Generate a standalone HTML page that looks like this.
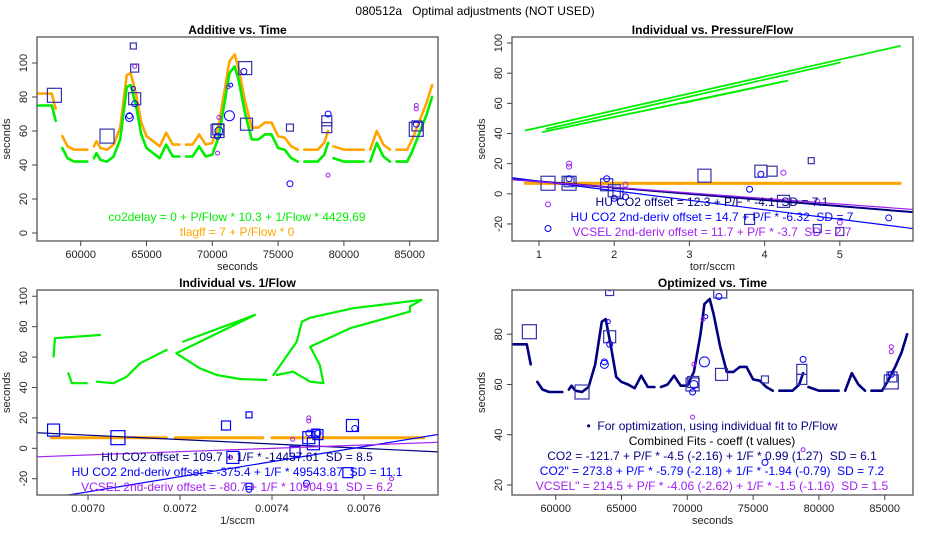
<!DOCTYPE html>
<html><head><meta charset="utf-8">
<style>
html,body{margin:0;padding:0;background:#fff;}
svg{display:block;font-family:"Liberation Sans",sans-serif;}
text{white-space:pre;}
</style></head>
<body>
<svg id="chart" width="950" height="550" viewBox="0 0 950 550" xmlns="http://www.w3.org/2000/svg" xml:space="preserve"></svg>
<script>
// ---------- DATA ----------
const timeSegs = [
 [56500,57800,58100],
 [58600,59000,59500,60500],
 [61000,61200,61500,62000,62500,63000,63500,63800,64200,64600,65000,65500,66000,66500,67000,67500],
 [68000,68500,69000,69500,70000,70500,71000,71300,71700,72000,72500,73000,73500,74000,74500,75000,75500,76000,76500],
 [77000,78000,78500,78800],
 [79200,80000,81500],
 [82000,82500,83000,83500],
 [84000,84800,85200,85800,86300,86700]
];
const co2delayVals = [
 [75,75,66],
 [50,44,42,42],
 [44,47,43,42,45,55,86,87,75,58,50,47,44,52,45,45],
 [45,45,51,45,46,57,80,94,98,90,70,55,55,58,58,50,49,44,42],
 [42,42,46,53],
 [44,42,42],
 [42,53,45,42],
 [42,42,48,60,70,80]
];
const tlagffVals = [
 [82,82,73],
 [57,51,49,49],
 [51,54,50,49,52,62,93,94,82,65,57,54,51,59,52,52],
 [52,52,58,52,53,64,87,101,105,97,77,62,62,65,65,57,56,51,49],
 [49,49,53,60],
 [51,49,49],
 [49,60,52,49],
 [49,49,55,67,77,87]
];
const optimizedVals = [
 [76,76,68],
 [61,58,57,57],
 [58,59.5,57.5,57,59,68,85,86,75,63,61,60,58.5,63.5,59,59],
 [59,60,63.5,59.5,59.5,65,80,92,94,88,75,65,65,67,67,62,61.5,59,57.5],
 [57.5,57.5,60,64.5],
 [59,57.5,57.5],
 [57.5,64.5,60,57.5],
 [57.5,57.5,61,67,73,80]
];
const tSqT = [58000,62000,64100,64100,64000,70400,70450,72500,72600,75900,78700,78700,85500,85550];
const tSqV = [81,57,79,97,110,60,61,97,64,62,66,62,61,63];
const tSqS = [14,14,12,8,6,13,11,13,12,7,10,10,14,10];
const tCiT = [63700,63700,64100,71300,72400,75900,78800,85500,70400,70500,64000,71400];
const tCiV = [68,69,76,69,95,29,70,64,57,60,85,87];
const tCiR = [4,3,3,5,3,3,3,3,3,4,2,2];
const tPuT = [70400,71200,78800,85500,85500,64100,70500];
const tPuV = [47,86,34,75,73,98,68];
const pfGreenX0 = [0.82,1.05,1.1,2.9];
const pfGreenY0 = [42,41,43,60];
const pfGreenX1 = [5.8,4.25,5.0,4.3];
const pfGreenY1 = [98,74.5,87,75];
const pfOrangeRange = [0.82,5.8];
const tlagffLevel = 7;
const pfFitIntercept = [12.3,14.7,11.7];
const pfFitSlope = [-4.1,-6.32,-3.7];
const pfSqX = [1.12,1.4,1.9,2.0,3.2,3.95,4.1,4.25,3.8,4.62,5.0,4.7,1.4,2.05];
const pfSqY = [7,7,6,2,12,15,15,-5,-17,22,-25,-23,8,0];
const pfSqS = [14,14,12,12,13,12,10,12,10,6,8,8,10,10];
const pfCiX = [1.4,1.9,2.15,1.12,3.95,3.8,5.65,2.0];
const pfCiY = [10,10,-2,-23,13,3,-16,-3];
const pfPuX = [1.4,1.4,4.7,4.25,1.12,2.15,5.0];
const pfPuY = [20,18,-5,14,-7,6,-19];
const invGreenX = [
 [0.007026,0.006928,0.006925],
 [0.006957,0.006965,0.006997],
 [0.007019,0.007055,0.007084,0.007113,0.007171],
 [0.007207,0.007363,0.007192,0.007243,0.007280,0.007330,0.007388],
 [0.007403,0.007454,0.007465,0.007483,0.007577,0.007725,0.007700,0.007700,0.007570,0.007483,0.007504,0.007512,0.007483,0.007446,0.007410]
];
const invGreenY = [
 [74.5,72.4,60.3],
 [49.3,42.8,42.8],
 [43.8,42.8,47.1,55.9,64.7],
 [70.2,87.7,62.5,52.6,48.2,45.6,44.9],
 [48.2,70.2,83.3,85.9,92.1,97.6,93.2,89.9,79,66.8,54.8,42.8,43.8,50.4,48.2]
];
const invOrangeStart = [0.00692,0.00719,0.00740];
const invOrangeEnd = [0.00717,0.00738,0.00773];
const invFitIntercept = [109.7,-375.4,-80.7];
const invFitSlope = [-14437.61,49543.87,10904.91];
const invSqX = [0.006925,0.007065,0.007300,0.007350,0.007450,0.007480,0.007490,0.007500,0.007575,0.007565,0.007315,0.007350,0.007495];
const invSqY = [12,7,15,22,-2,7,3,9,15,-16,-6,-25,10];
const invSqS = [12,14,9,6,10,12,12,10,12,10,12,6,8];
const invCiX = [0.007480,0.007580,0.007475,0.007500,0.007350];
const invCiY = [10,13,-23,10,-27];
const invPuX = [0.007480,0.007480,0.007310,0.007660,0.007445];
const invPuY = [20,18,-6,-20,6];

// ---------- DRAW ----------
const NS="http://www.w3.org/2000/svg";
const svg=document.getElementById('chart');
const C={green:'#00ee00',orange:'#ffa500',navy:'#000080',blue:'#0000ff',purple:'#a020f0',sq:'#3333aa'};
function mk(tag,attrs,parent){const e=document.createElementNS(NS,tag);for(const k in attrs)e.setAttribute(k,attrs[k]);(parent||svg).appendChild(e);return e;}
function txt(x,y,s,opts,parent){const t=mk('text',Object.assign({x:x,y:y,'font-size':12,'text-anchor':'middle',fill:'#000'},opts||{}),parent);t.textContent=s;return t;}

function panel(id,px0,px1,py0,py1,xmin,xmax,ymin,ymax){
 const p={px0,px1,py0,py1,xmin,xmax,ymin,ymax};
 p.sx=v=>px0+(v-xmin)/(xmax-xmin)*(px1-px0);
 p.sy=v=>py1-(v-ymin)/(ymax-ymin)*(py1-py0);
 const cp=mk('clipPath',{id:'clip'+id});
 mk('rect',{x:px0,y:py0,width:px1-px0,height:py1-py0},cp);
 p.g=mk('g',{'clip-path':'url(#clip'+id+')'});
 
 
 return p;
}
function frame(p,name,title,xticks,xlabels,yticks,ylabels,xtitle){
 const b=mk('rect',{x:p.px0,y:p.py0,width:p.px1-p.px0,height:p.py1-p.py0,fill:'none',stroke:'#555','stroke-width':1.3});
 
 
 const t=txt((p.px0+p.px1)/2,p.py0-3,title,{'font-weight':'bold','font-size':12});
 
 
 const xa=mk('g',{});
 
 
 xticks.forEach((v,i)=>{const x=p.sx(v);mk('line',{x1:x,x2:x,y1:p.py1,y2:p.py1+5,stroke:'#444'},xa);txt(x,p.py1+17,xlabels[i],{'font-size':11,fill:'#222'},xa);});
 const ya=mk('g',{});
 
 
 yticks.forEach((v,i)=>{const y=p.sy(v);mk('line',{x1:p.px0-5,x2:p.px0,y1:y,y2:y,stroke:'#444'},ya);txt(p.px0-10,y,ylabels[i],{'font-size':11,fill:'#222',transform:'rotate(-90 '+(p.px0-10)+' '+y+')'},ya);});
 const xt=txt((p.px0+p.px1)/2,p.py1+29,xtitle,{'font-size':11,fill:'#222'});
 
 
 const yx=p.px0-27,yy=(p.py0+p.py1)/2;
 const yt=txt(yx,yy,'seconds',{'font-size':11,fill:'#222',transform:'rotate(-90 '+yx+' '+yy+')'});
 
 
}
function poly(p,xs,ys,color,w,name){
 const pts=xs.map((x,i)=>p.sx(x).toFixed(1)+','+p.sy(ys[i]).toFixed(1)).join(' ');
 const e=mk('polyline',{points:pts,fill:'none',stroke:color,'stroke-width':w,'stroke-linejoin':'round','stroke-linecap':'round'},p.g);
 
 
 return e;
}
function squares(p,xs,ys,ss,color,name){
 xs.forEach((x,i)=>{const s=ss[i];const e=mk('rect',{x:p.sx(x)-s/2,y:p.sy(ys[i])-s/2,width:s,height:s,fill:'none',stroke:color,'stroke-width':1.2},p.g);
 
 });
}
function circles(p,xs,ys,rs,color,name){
 xs.forEach((x,i)=>{const r=rs?rs[i]:2;const e=mk('circle',{cx:p.sx(x),cy:p.sy(ys[i]),r:r,fill:'none',stroke:color,'stroke-width':1},p.g);
 
 });
}
function fitLine(p,a,b,color,w,name){
 const e=mk('line',{x1:p.sx(p.xmin),y1:p.sy(a+b*p.xmin),x2:p.sx(p.xmax),y2:p.sy(a+b*p.xmax),stroke:color,'stroke-width':w},p.g);
 
 
}

const mt=txt(475,15,'080512a   Optimal adjustments (NOT USED)',{'font-size':12});



const timeTicks=[60000,65000,70000,75000,80000,85000];
const timeLabels=['60000','65000','70000','75000','80000','85000'];

// Panel 1
const p1=panel('1',37,438,37,241,56679,87150,-4.7,115.3);
timeSegs.forEach((ts,i)=>poly(p1,ts,tlagffVals[i],C.orange,2.6,'tlagff-line'));
timeSegs.forEach((ts,i)=>poly(p1,ts,co2delayVals[i],C.green,2.6,'co2delay-line'));
squares(p1,tSqT,tSqV,tSqS,C.sq,'co2-offset-square');
circles(p1,tCiT,tCiV,tCiR,C.blue,'co2-deriv-circle');
circles(p1,tPuT,tPuV,null,C.purple,'vcsel-point');
frame(p1,'additive-panel','Additive vs. Time',timeTicks,timeLabels,[0,20,40,60,80,100],['0','20','40','60','80','100'],'seconds');
let t;
t=txt(237,221,'co2delay = 0 + P/Flow * 10.3 + 1/Flow * 4429.69',{fill:C.green});


t=txt(237,236,'tlagff = 7 + P/Flow * 0',{fill:C.orange});



// Panel 2
const p2=panel('2',512,913,37,241,0.641,5.973,-31.3,104);
pfGreenX0.forEach((x,i)=>poly(p2,[x,pfGreenX1[i]],[pfGreenY0[i],pfGreenY1[i]],C.green,1.8,'co2delay-vs-pf'));
poly(p2,pfOrangeRange,[tlagffLevel,tlagffLevel],C.orange,3.2,'tlagff-vs-pf');
squares(p2,pfSqX,pfSqY,pfSqS,C.sq,'co2-offset-square');
circles(p2,pfCiX,pfCiY,pfCiX.map(()=>3),C.blue,'co2-deriv-circle');
circles(p2,pfPuX,pfPuY,pfPuX.map(()=>2.5),C.purple,'vcsel-point');
const fitCols=[C.navy,C.blue,C.purple],fitW=[2,1.2,1.2],fitNames=['hu-co2-fit-line','hu-co2-deriv-fit-line','vcsel-fit-line'];
pfFitIntercept.forEach((a,i)=>fitLine(p2,a,pfFitSlope[i],fitCols[i],fitW[i],fitNames[i]));
frame(p2,'pressure-flow-panel','Individual vs. Pressure/Flow',[1,2,3,4,5],['1','2','3','4','5'],[-20,0,20,40,60,80,100],['-20','0','20','40','60','80','100'],'torr/sccm');
t=txt(712,206,'HU CO2 offset = 12.3 + P/F * -4.1  SD = 7.1',{fill:C.navy});


t=txt(712,221,'HU CO2 2nd-deriv offset = 14.7 + P/F * -6.32  SD = 7',{fill:C.blue});


t=txt(712,236,'VCSEL 2nd-deriv offset = 11.7 + P/F * -3.7  SD = 2.7',{fill:C.purple});



// Panel 3
const p3=panel('3',37,438,290,495,0.006889,0.007761,-30.7,104.1);
invGreenX.forEach((xs,i)=>poly(p3,xs,invGreenY[i],C.green,2.2,'co2delay-vs-inv-flow'));
invOrangeStart.forEach((x,i)=>poly(p3,[x,invOrangeEnd[i]],[tlagffLevel,tlagffLevel],C.orange,3,'tlagff-vs-inv-flow'));
squares(p3,invSqX,invSqY,invSqS,C.blue,'co2-offset-square');
circles(p3,invCiX,invCiY,invCiX.map(()=>3),C.blue,'co2-deriv-circle');
circles(p3,invPuX,invPuY,invPuX.map(()=>2),C.purple,'vcsel-point');
invFitIntercept.forEach((a,i)=>fitLine(p3,a,invFitSlope[i],fitCols[i],1.2,fitNames[i]));
frame(p3,'inverse-flow-panel','Individual vs. 1/Flow',[0.0070,0.0072,0.0074,0.0076],['0.0070','0.0072','0.0074','0.0076'],[-20,0,20,40,60,80,100],['-20','0','20','40','60','80','100'],'1/sccm');
t=txt(237,461,'HU CO2 offset = 109.7 + 1/F * -14437.61  SD = 8.5',{fill:C.navy});


t=txt(237,476,'HU CO2 2nd-deriv offset = -375.4 + 1/F * 49543.87  SD = 11.1',{fill:C.blue});


t=txt(237,491,'VCSEL 2nd-deriv offset = -80.7 + 1/F * 10904.91  SD = 6.2',{fill:C.purple});



// Panel 4
const p4=panel('4',512,913,290,495,56679,87150,16,97.6);
timeSegs.forEach((ts,i)=>poly(p4,ts,optimizedVals[i],C.navy,2.6,'optimized-line'));
squares(p4,tSqT,tSqV,tSqS,C.sq,'co2-offset-square');
circles(p4,tCiT,tCiV,tCiR,C.blue,'co2-deriv-circle');
circles(p4,tPuT,tPuV,null,C.purple,'vcsel-point');
frame(p4,'optimized-panel','Optimized vs. Time',timeTicks,timeLabels,[20,40,60,80],['20','40','60','80'],'seconds');
t=txt(712,430,'\u2022  For optimization, using individual fit to P/Flow',{fill:C.navy});


t=txt(712,445,'Combined Fits - coeff (t values)',{fill:'#000'});


t=txt(712,460,'CO2 = -121.7 + P/F * -4.5 (-2.16) + 1/F * 0.99 (1.27)  SD = 6.1',{fill:C.navy});


t=txt(712,475,'CO2" = 273.8 + P/F * -5.79 (-2.18) + 1/F * -1.94 (-0.79)  SD = 7.2',{fill:C.blue});


t=txt(712,490,'VCSEL" = 214.5 + P/F * -4.06 (-2.62) + 1/F * -1.5 (-1.16)  SD = 1.5',{fill:C.purple});


</script>
</body></html>
